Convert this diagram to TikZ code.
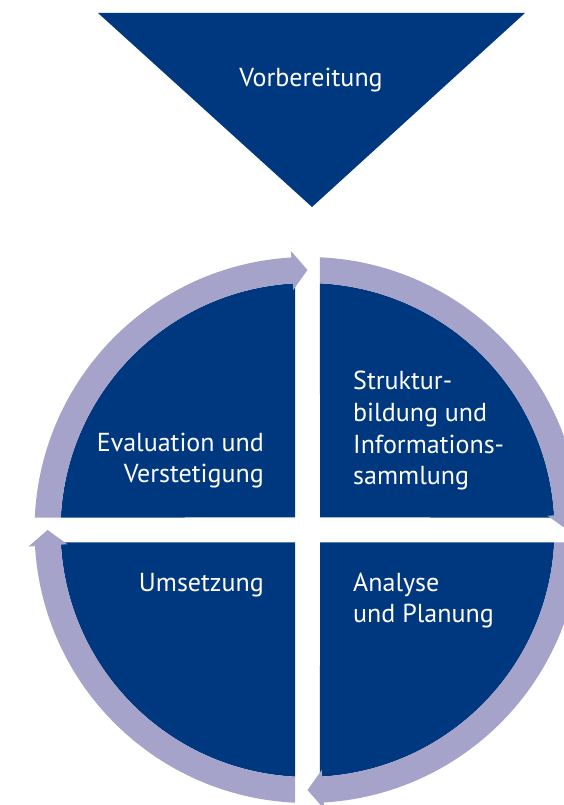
\documentclass[tikz,border=0pt]{standalone}
\usepackage{fontspec}
\setmainfont{PT Sans}
\definecolor{mblue}{RGB}{0, 56, 128}
\definecolor{mlilac}{RGB}{165, 163, 201}
\tikzset{phasetext/.style={white, inner sep=0, font=\fontsize{26}{31.8}\selectfont}}

\begin{document}
\begin{tikzpicture}[x=1pt, y=1pt]
    \useasboundingbox (0, 0) rectangle (563, 805);

    \fill [mblue] (98, 792) -- (525, 792) -- (312, 598) -- cycle;
    \node (prep) [phasetext, anchor=base] at (311, 718) {Vorbereitung};

    \begin{scope}[shift={(307.5, 275)}]
      \fill [mblue] (12.5, 12.5) -- (87.1:247) arc [start angle=87.1, end angle=2.9, radius=247pt] -- cycle;
      \fill [mlilac] (87.38:273) arc [start angle=87.38, end angle=3.4, radius=273pt] -- (3.4:279.5) -- (0:260) -- (3.4:240.5) -- (3.4:247) arc [start angle=3.4, end angle=87.1, radius=247pt] -- cycle;
    \end{scope}

    \begin{scope}[shift={(307.5, 275)}, rotate=-90]
      \fill [mblue] (12.5, 12.5) -- (87.1:247) arc [start angle=87.1, end angle=2.9, radius=247pt] -- cycle;
      \fill [mlilac] (87.38:273) arc [start angle=87.38, end angle=3.4, radius=273pt] -- (3.4:279.5) -- (0:260) -- (3.4:240.5) -- (3.4:247) arc [start angle=3.4, end angle=87.1, radius=247pt] -- cycle;
    \end{scope}

    \begin{scope}[shift={(307.5, 275)}, rotate=-180]
      \fill [mblue] (12.5, 12.5) -- (87.1:247) arc [start angle=87.1, end angle=2.9, radius=247pt] -- cycle;
      \fill [mlilac] (87.38:273) arc [start angle=87.38, end angle=3.4, radius=273pt] -- (3.4:279.5) -- (0:260) -- (3.4:240.5) -- (3.4:247) arc [start angle=3.4, end angle=87.1, radius=247pt] -- cycle;
    \end{scope}

    \begin{scope}[shift={(307.5, 275)}, rotate=-270]
      \fill [mblue] (12.5, 12.5) -- (87.1:247) arc [start angle=87.1, end angle=2.9, radius=247pt] -- cycle;
      \fill [mlilac] (87.38:273) arc [start angle=87.38, end angle=3.4, radius=273pt] -- (3.4:279.5) -- (0:260) -- (3.4:240.5) -- (3.4:247) arc [start angle=3.4, end angle=87.1, radius=247pt] -- cycle;
    \end{scope}

    \node (struct) [phasetext, anchor=base west, align=left] at (353, 320) {Struktur-\\bildung und\\Informations-\\sammlung};
    \node (eval) [phasetext, anchor=base east, align=right] at (264, 322) {Evaluation und\\Verstetigung};
    \node (impl) [phasetext, anchor=base east] at (264, 213) {Umsetzung};
    \node (plan) [phasetext, anchor=base west, align=left] at (353, 182) {Analyse\\und Planung};
  \end{tikzpicture}
\end{document}
